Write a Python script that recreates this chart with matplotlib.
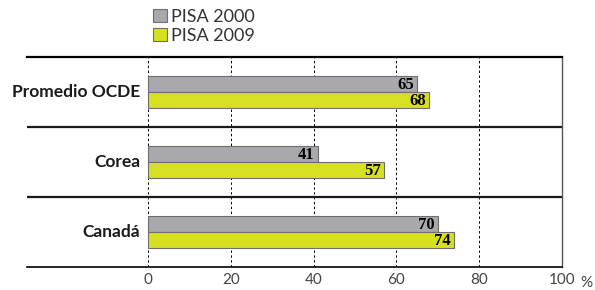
import numpy as np
import matplotlib
matplotlib.use('Agg')
import matplotlib.pyplot as plt

# datos
categorias = ['Promedio OCDE', 'Corea', 'Canadá']
pisa_2000 = [65, 41, 70]
pisa_2009 = [68, 57, 74]
ticks_x = [0, 20, 40, 60, 80, 100]

color_gris = '#a9a9ad'
color_amarillo = '#d7e020'
color_borde = '#6e6e6e'

fig = plt.figure(figsize=(5.95, 2.90), dpi=100)
ax = fig.add_axes([27/595, 1-267/290, 535/595, 210/290])

y = np.arange(len(categorias))
h = 0.225
b1 = ax.barh(y - h/2, pisa_2000, height=h, color=color_gris, edgecolor=color_borde, linewidth=0.8, label='PISA 2000', zorder=3)
b2 = ax.barh(y + h/2, pisa_2009, height=h, color=color_amarillo, edgecolor=color_borde, linewidth=0.8, label='PISA 2009', zorder=3)

# etiquetas de valor
for yy, v in zip(y - h/2, pisa_2000):
    ax.text(v - 0.8, yy + 0.01, str(v), ha='right', va='center', fontsize=12,
            fontweight='bold', family='Liberation Serif', zorder=4)
for yy, v in zip(y + h/2, pisa_2009):
    ax.text(v - 0.8, yy + 0.01, str(v), ha='right', va='center', fontsize=12,
            fontweight='bold', family='Liberation Serif', zorder=4)

# etiquetas de categoria
for yy, c in zip(y, categorias):
    ax.text(-1.9, yy, c, ha='right', va='center', fontsize=12.5, fontweight='bold',
            family='Lato', color='#1a1a1a')

ax.set_xlim(-29.2, 100)
ax.set_ylim(2.5, -0.5)

# lineas de cuadricula
for t in ticks_x[:-1]:
    ax.axvline(t, color='black', linestyle=(0, (2.5, 2.5)), linewidth=0.7, zorder=1)
for s in [0.5, 1.5]:
    ax.axhline(s, color='#1a1a1a', linewidth=1.6, zorder=2)

ax.spines['left'].set_visible(False)
ax.spines['top'].set_linewidth(1.6)
ax.spines['bottom'].set_linewidth(1.2)
ax.spines['right'].set_linewidth(1.0)
ax.spines['right'].set_color('#555555')

ax.set_yticks([])
ax.set_xticks(ticks_x)
ax.set_xticklabels([str(t) for t in ticks_x], fontsize=11, family='Lato', color='#444444')
ax.tick_params(axis='x', length=0, pad=4)
fig.text(586/595, 1 - 283/290, '%', ha='center', va='center', fontsize=11,
         family='Lato', color='#444444')

# leyenda
leg = fig.legend(handles=[b1, b2], loc='upper left', bbox_to_anchor=(153/595, 1 - 9/290),
                 frameon=False, fontsize=13, handlelength=0.75, handleheight=0.75,
                 handletextpad=0.25, labelspacing=0.15, borderaxespad=0, borderpad=0)
for t in leg.get_texts():
    t.set_family('Lato')
    t.set_color('#333333')

fig.savefig('out.png', dpi=100)
